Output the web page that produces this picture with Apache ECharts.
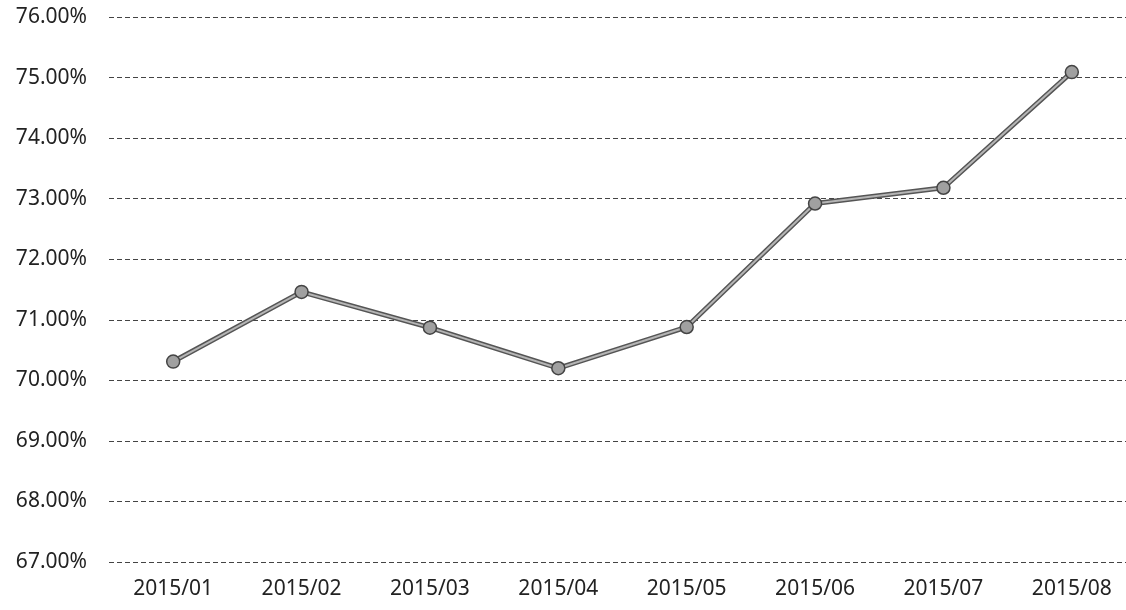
<!DOCTYPE html>
<html><head><meta charset="utf-8">
<script src="https://cdn.jsdelivr.net/npm/echarts@6/dist/echarts.min.js"></script>
<style>html,body{margin:0;padding:0;background:#fff;overflow:hidden}#c{width:1140px;height:610px}</style>
</head><body><div id="c"></div>
<script>
const categories = ['2015/01','2015/02','2015/03','2015/04','2015/05','2015/06','2015/07','2015/08'];
const rates = [70.31, 71.46, 70.87, 70.20, 70.88, 72.92, 73.18, 75.09];
const yMin = 67, yMax = 76, yStep = 1;

const chart = echarts.init(document.getElementById('c'));
const font = '"Noto Sans", "Liberation Sans", sans-serif';
chart.setOption({
  animation: false,
  backgroundColor: '#fff',
  grid: { left: 109, right: 4, top: 17, bottom: 48, containLabel: false },
  xAxis: {
    type: 'category', data: categories, boundaryGap: true,
    axisLine: { show: false }, axisTick: { show: false },
    axisLabel: { color: '#222', fontSize: 21, fontFamily: font, margin: 17 }
  },
  yAxis: {
    type: 'value', min: yMin, max: yMax, interval: yStep,
    axisLine: { show: false }, axisTick: { show: false },
    axisLabel: { color: '#222', fontSize: 21, fontFamily: font, margin: 22,
      formatter: v => v.toFixed(2) + '%' },
    splitLine: { show: true, lineStyle: { color: '#444', width: 1, type: [5, 3] } }
  },
  series: [
    { type: 'line', data: rates, showSymbol: false, silent: true, z: 2,
      lineStyle: { color: '#555', width: 5 } },
    { type: 'line', data: rates, z: 3, symbol: 'circle', symbolSize: 13,
      lineStyle: { color: '#b5b5b5', width: 2 },
      itemStyle: { color: '#a0a0a0', borderColor: '#444', borderWidth: 1.5 } }
  ]
});
</script></body></html>
